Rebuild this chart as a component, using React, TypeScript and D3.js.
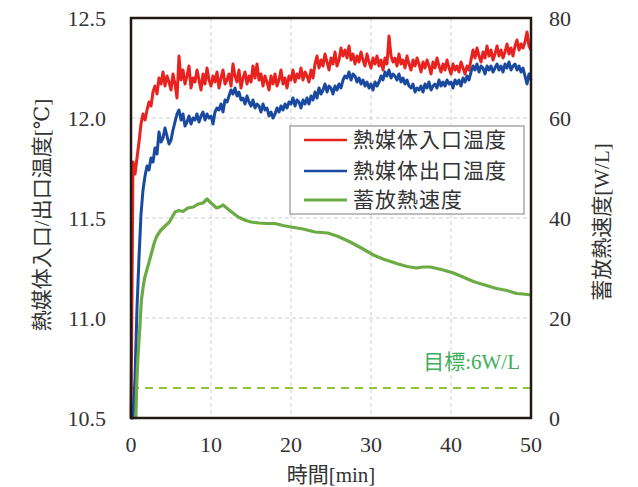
import React from 'react';
import * as d3 from 'd3';

// inlet / outlet temperature, one value every 0.25 min (0 .. 50)
const sampleStep = 0.25;

const inletTemp = [
  10.5, 11.78, 11.72, 11.8, 11.88, 11.97, 12.02, 11.99, 12.04, 12.08, 12.06, 12.13,
  12.16, 12.12, 12.2, 12.17, 12.23, 12.16, 12.21, 12.18, 12.14, 12.22, 12.17, 12.1,
  12.31, 12.19, 12.24, 12.17, 12.21, 12.26, 12.15, 12.2, 12.18, 12.24, 12.19, 12.14,
  12.22, 12.17, 12.25, 12.19, 12.16, 12.21, 12.18, 12.23, 12.15, 12.2, 12.24, 12.17,
  12.19, 12.22, 12.16, 12.27, 12.21, 12.18, 12.24, 12.15, 12.2, 12.23, 12.17, 12.21,
  12.18, 12.26, 12.2, 12.27, 12.19, 12.22, 12.16, 12.21, 12.18, 12.14, 12.21, 12.17,
  12.22, 12.16, 12.19, 12.24, 12.17, 12.2, 12.15, 12.21, 12.19, 12.24, 12.18, 12.22,
  12.2, 12.25, 12.19, 12.23, 12.21, 12.18, 12.24, 12.2, 12.27, 12.31, 12.25, 12.29,
  12.26, 12.32, 12.28, 12.24, 12.3, 12.27, 12.33, 12.26, 12.29, 12.35, 12.31, 12.34,
  12.3, 12.36, 12.29, 12.32, 12.27, 12.31, 12.28, 12.33, 12.29, 12.26, 12.32, 12.28,
  12.25, 12.3, 12.27, 12.31, 12.26, 12.29, 12.24, 12.3, 12.27, 12.41, 12.31, 12.28,
  12.3, 12.26, 12.32, 12.27, 12.29, 12.25, 12.31, 12.27, 12.24, 12.29, 12.26, 12.3,
  12.27, 12.23, 12.28, 12.25, 12.29, 12.26, 12.22, 12.28, 12.25, 12.3, 12.26, 12.23,
  12.27, 12.24, 12.29, 12.25, 12.22, 12.27, 12.24, 12.26, 12.23, 12.28, 12.25, 12.22,
  12.26, 12.24, 12.29, 12.34, 12.3, 12.35, 12.31, 12.28, 12.33, 12.3, 12.36, 12.31,
  12.34, 12.29, 12.32, 12.36, 12.31, 12.34, 12.3, 12.33, 12.37, 12.32, 12.35, 12.31,
  12.36, 12.39, 12.34, 12.37, 12.35, 12.38, 12.43, 12.36, 12.34,
];

const outletTemp = [
  10.5, 10.5, 10.7, 11.05, 11.3, 11.52, 11.64, 11.71, 11.76, 11.74, 11.8, 11.78,
  11.85, 11.82, 11.93, 11.88, 11.9, 11.95, 11.91, 11.87, 11.89, 11.94, 11.98, 12.02,
  12.04, 11.99, 12.02, 11.96, 11.98, 12.01, 11.97, 12.0, 11.99, 12.02, 11.98, 12.01,
  12.03, 11.99, 12.02, 12.0, 12.01, 11.97, 12.03, 12.05, 12.04, 12.07, 12.03, 12.09,
  12.08, 12.11, 12.14, 12.12, 12.15, 12.11, 12.13, 12.09, 12.1, 12.07, 12.11, 12.08,
  12.06, 12.09, 12.05, 12.07, 12.06, 12.03, 12.07, 12.04, 12.05, 12.01, 12.03, 12.0,
  12.02, 12.05, 12.03, 12.06, 12.04, 12.07, 12.05, 12.08, 12.07, 12.1, 12.06, 12.09,
  12.08, 12.05, 12.09, 12.07, 12.1, 12.07, 12.11, 12.09, 12.13, 12.1, 12.15, 12.12,
  12.14, 12.17, 12.13, 12.16, 12.15, 12.12, 12.16, 12.14, 12.17, 12.15, 12.19, 12.21,
  12.2, 12.23, 12.19, 12.22, 12.21, 12.18, 12.2, 12.17, 12.19, 12.16, 12.18, 12.15,
  12.17, 12.14, 12.18, 12.16, 12.18, 12.21, 12.19, 12.23, 12.21, 12.24, 12.2, 12.22,
  12.21, 12.19, 12.22, 12.18, 12.2, 12.17, 12.19, 12.16, 12.15, 12.17, 12.13, 12.15,
  12.14, 12.16, 12.13, 12.17, 12.15, 12.18, 12.14, 12.16, 12.17, 12.15, 12.19, 12.16,
  12.18, 12.16, 12.19, 12.17, 12.18, 12.15, 12.19, 12.17, 12.19, 12.16, 12.2, 12.18,
  12.21, 12.19, 12.23, 12.26, 12.24, 12.27, 12.23, 12.26, 12.25, 12.22, 12.26, 12.24,
  12.26, 12.23, 12.25, 12.27, 12.24, 12.26, 12.23, 12.27, 12.25, 12.28, 12.24, 12.26,
  12.27, 12.24, 12.26, 12.23, 12.25, 12.21, 12.17, 12.22, 12.19,
];

// heat storage/release rate (right axis)
const rateTime = [
  0.6, 0.7, 0.8, 0.9, 1.1, 1.3, 1.5, 1.7, 2.1, 2.5, 2.9, 3.2, 3.7, 4.2, 4.8, 5.5,
  6.0, 6.5, 7.1, 7.8, 8.4, 9.0, 9.5, 10.0, 10.7, 11.2, 11.5, 12.5, 13.4, 14.2, 15,
  16, 17, 18, 19, 20, 21.5, 23, 24.6, 25.9, 27.4, 29, 30.3, 31.5, 33.2, 34.5, 35.7,
  36.5, 37.4, 38.8, 40.3, 41.5, 42.8, 44, 45.7, 47, 48.2, 49, 50,
];
const rateValue = [
  0, 6, 10, 13, 18, 23.6, 26, 28, 30.3, 32.6, 35, 36.3, 37.5, 38.3, 39.2, 41.2,
  41.5, 41.3, 42, 42.2, 42.8, 43, 43.8, 43, 42, 42.3, 42.6, 41.3, 40.2, 39.6, 39.2,
  39, 38.9, 38.9, 38.5, 38.2, 37.8, 37.2, 37, 36.3, 35.2, 33.8, 32.6, 31.8, 30.9,
  30.3, 30, 30.2, 30.2, 29.7, 29, 28.2, 27.3, 26.7, 25.9, 25.5, 24.9, 24.8, 24.6,
];

const targetRate = 6;
const targetLabel = '目標:6W/L';

const xTicks = [0, 10, 20, 30, 40, 50];
const leftTicks = [10.5, 11.0, 11.5, 12.0, 12.5];
const rightTicks = [0, 20, 40, 60, 80];

const seriesNames = ['熱媒体入口温度', '熱媒体出口温度', '蓄放熱速度'];
const seriesColors = ['#e8221e', '#1a4aa0', '#6aab44'];

const xTitle = '時間[min]';
const leftTitle = '熱媒体入口/出口温度[℃]';
const rightTitle = '蓄放熱速度[W/L]';

const W = 638;
const H = 487;
const margin = { top: 18, right: 107, bottom: 69, left: 131 };
const FONT = '"Liberation Serif", "Times New Roman", "DejaVu Serif", "Noto Sans CJK JP", serif';
const TEXT = '#333';

const App = () => {
  const iw = W - margin.left - margin.right;
  const ih = H - margin.top - margin.bottom;

  const x = d3.scaleLinear().domain([0, 50]).range([0, iw]);
  const yT = d3.scaleLinear().domain([10.5, 12.5]).range([ih, 0]);
  const yR = d3.scaleLinear().domain([0, 80]).range([ih, 0]);

  const tempLine = d3
    .line<number>()
    .x((_, i) => x(i * sampleStep))
    .y((d) => yT(d));
  const rateLine = d3
    .line<number>()
    .x((_, i) => x(rateTime[i]))
    .y((d) => yR(d));

  const legendRows = [0, 31, 60];

  return (
    <svg
      width={W}
      height={H}
      style={{ position: 'absolute', left: 0, top: 0, background: '#fff', fontFamily: FONT }}
    >
      <g transform={`translate(${margin.left},${margin.top})`}>
        {/* grid */}
        {xTicks.slice(1, -1).map((t) => (
          <line key={'gx' + t} x1={x(t)} x2={x(t)} y1={0} y2={ih}
            stroke="#cfcfcf" strokeDasharray="4,3" />
        ))}
        {leftTicks.slice(1, -1).map((t) => (
          <line key={'gy' + t} x1={0} x2={iw} y1={yT(t)} y2={yT(t)}
            stroke="#cfcfcf" strokeDasharray="4,3" />
        ))}

        {/* target */}
        <line x1={0} x2={iw} y1={yR(targetRate)} y2={yR(targetRate)}
          stroke="#8cc63f" strokeWidth={2} strokeDasharray="8,6" />
        <text x={iw - 11} y={yR(targetRate) - 19} textAnchor="end" fontSize={21}
          fill="#3fae5a">{targetLabel}</text>

        {/* series */}
        <path d={tempLine(inletTemp) || ''} fill="none" stroke={seriesColors[0]}
          strokeWidth={3} strokeLinejoin="round" />
        <path d={tempLine(outletTemp) || ''} fill="none" stroke={seriesColors[1]}
          strokeWidth={3} strokeLinejoin="round" />
        <path d={rateLine(rateValue) || ''} fill="none" stroke={seriesColors[2]}
          strokeWidth={3.2} strokeLinejoin="round" />

        {/* legend */}
        <g transform="translate(159,108)">
          <rect x={0} y={0} width={234} height={88} fill="#fff" stroke="#a8a8a8" strokeWidth={1.5} />
          {seriesNames.map((n, i) => (
            <g key={n} transform={`translate(0,${14 + legendRows[i]})`}>
              <line x1={14} x2={57} y1={0} y2={0} stroke={seriesColors[i]}
                strokeWidth={i === 2 ? 3 : 2.5} />
              <text x={63} y={0} dy="0.35em" fontSize={21} fill={TEXT}
                letterSpacing={1}>{n}</text>
            </g>
          ))}
        </g>

        {/* frame */}
        <rect x={0} y={0} width={iw} height={ih} fill="none" stroke="#231815" strokeWidth={2.5} />

        {/* ticks */}
        {xTicks.map((t) => (
          <text key={'tx' + t} x={x(t)} y={ih + 26} dy="0.35em" textAnchor="middle"
            fontSize={22} fill={TEXT}>{t}</text>
        ))}
        {leftTicks.map((t) => (
          <text key={'tl' + t} x={-25} y={yT(t)} dy="0.35em" textAnchor="end"
            fontSize={22} fill={TEXT}>{t.toFixed(1)}</text>
        ))}
        {rightTicks.map((t) => (
          <text key={'tr' + t} x={iw + 18} y={yR(t)} dy="0.35em" textAnchor="start"
            fontSize={22} fill={TEXT}>{t}</text>
        ))}

        {/* titles */}
        <text x={iw / 2} y={ih + 57} dy="0.35em" textAnchor="middle" fontSize={21} fill={TEXT}>
          {xTitle}
        </text>
        <text transform={`translate(${42 - margin.left},${215 - margin.top}) rotate(-90)`}
          dy="0.35em" textAnchor="middle" fontSize={21} fill={TEXT}>{leftTitle}</text>
        <text transform={`translate(${602 - margin.left},${222 - margin.top}) rotate(-90)`}
          dy="0.35em" textAnchor="middle" fontSize={21} fill={TEXT}>{rightTitle}</text>
      </g>
    </svg>
  );
};

export default App;
